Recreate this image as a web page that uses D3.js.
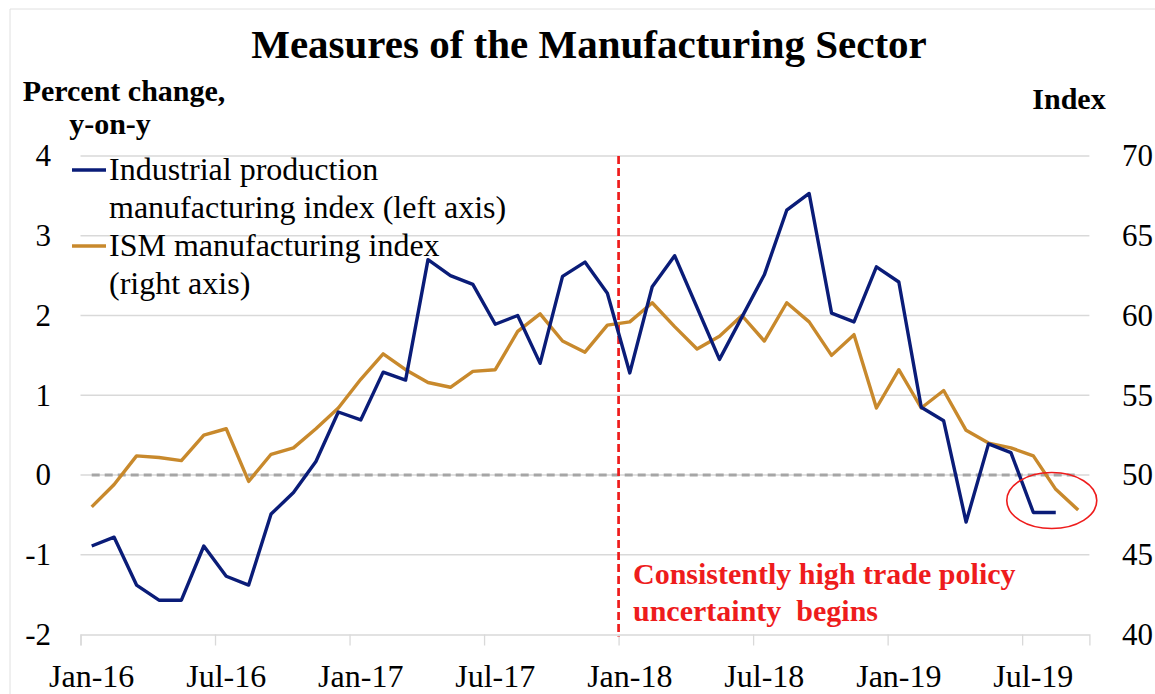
<!DOCTYPE html>
<html><head><meta charset="utf-8">
<script src="https://cdn.jsdelivr.net/npm/d3@7/dist/d3.min.js"></script>
<style>
html,body{margin:0;padding:0;background:#fff;}
text{font-family:"Liberation Serif","Times New Roman",serif;}
</style></head>
<body>
<svg id="chart" width="1155" height="694"></svg>
<script>
const months = ["Jan-16","Feb-16","Mar-16","Apr-16","May-16","Jun-16","Jul-16","Aug-16","Sep-16","Oct-16","Nov-16","Dec-16",
"Jan-17","Feb-17","Mar-17","Apr-17","May-17","Jun-17","Jul-17","Aug-17","Sep-17","Oct-17","Nov-17","Dec-17",
"Jan-18","Feb-18","Mar-18","Apr-18","May-18","Jun-18","Jul-18","Aug-18","Sep-18","Oct-18","Nov-18","Dec-18",
"Jan-19","Feb-19","Mar-19","Apr-19","May-19","Jun-19","Jul-19","Aug-19","Sep-19"];
const industrialProduction = [-0.89,-0.78,-1.38,-1.57,-1.57,-0.89,-1.27,-1.38,-0.49,-0.22,0.17,0.79,
0.69,1.29,1.19,2.70,2.50,2.39,1.89,2.00,1.40,2.49,2.67,2.28,
1.28,2.36,2.75,2.10,1.45,1.98,2.51,3.32,3.53,2.03,1.92,2.61,
2.42,0.85,0.68,-0.59,0.39,0.28,-0.47,-0.47];
const ismIndex = [48.0,49.4,51.2,51.1,50.9,52.5,52.9,49.6,51.3,51.7,52.9,54.2,
56.0,57.6,56.6,55.8,55.5,56.5,56.6,59.0,60.1,58.4,57.7,59.4,
59.6,60.8,59.3,57.9,58.7,60.0,58.4,60.8,59.6,57.5,58.8,54.2,
56.6,54.2,55.3,52.8,52.0,51.7,51.2,49.1,47.8];
const xTickLabels = ["Jan-16","Jul-16","Jan-17","Jul-17","Jan-18","Jul-18","Jan-19","Jul-19"];
const leftTicks = [-2,-1,0,1,2,3,4];
const rightTicks = [40,45,50,55,60,65,70];
const policyStart = "Jan-18";

const svg = d3.select("#chart");
const font = '"Liberation Serif","Times New Roman",serif';
const blue = "#0a1c78", gold = "#c8892c", red = "#ee1c1c", grid = "#d9d9d9";

const x = d3.scaleLinear().domain([0, months.length]).range([80.5, 1089.4]);
const yL = d3.scaleLinear().domain([-2, 4]).range([634.5, 156]);
const yR = d3.scaleLinear().domain([40, 70]).range([634.5, 156]);
const cx = i => x(i + 0.5);

// frame
svg.append("line").attr("x1",10).attr("x2",1155).attr("y1",9).attr("y2",9).attr("stroke","#e0e0e0");
svg.append("line").attr("x1",10).attr("x2",10).attr("y1",9).attr("y2",694).attr("stroke","#e0e0e0");

// gridlines
svg.append("g").selectAll("line").data(leftTicks.filter(d => d > -2)).join("line")
  .attr("x1", x(0)).attr("x2", x(months.length))
  .attr("y1", d => yL(d)).attr("y2", d => yL(d))
  .attr("stroke", grid).attr("stroke-width", 1.3);

// bottom axis
const xTickIdx = xTickLabels.map(l => months.indexOf(l));
const xAxis = d3.axisBottom(x).tickValues(xTickIdx).tickSize(11).tickFormat("");
const gx = svg.append("g").attr("transform", `translate(0,${yL(-2)})`).call(xAxis);
gx.select(".domain").attr("stroke", grid).attr("stroke-width", 1.3);
gx.selectAll(".tick line").attr("stroke", grid).attr("stroke-width", 1.3);
svg.append("g").selectAll("text").data(xTickLabels).join("text")
  .attr("x", d => cx(months.indexOf(d))).attr("y", 687)
  .attr("text-anchor","middle").attr("font-size",32).attr("fill","#000").text(d => d);

// left tick labels
const yAxisL = d3.axisLeft(yL).tickValues(leftTicks).tickSize(0).tickPadding(0).tickFormat(d3.format("d"));
const gl = svg.append("g").attr("transform","translate(51,0)").call(yAxisL);
gl.select(".domain").remove();
gl.selectAll("text").attr("font-family", font).attr("font-size", 31).attr("fill","#000")
  .text(d => d < 0 ? "-" + Math.abs(d) : d);

// right tick labels
const yAxisR = d3.axisRight(yR).tickValues(rightTicks).tickSize(0).tickPadding(0).tickFormat(d3.format("d"));
const gr = svg.append("g").attr("transform","translate(1122,0)").call(yAxisR);
gr.select(".domain").remove();
gr.selectAll("text").attr("font-family", font).attr("font-size", 31).attr("fill","#000");

// zero dashed line
svg.append("line").attr("x1", cx(0)).attr("x2", cx(months.length - 1))
  .attr("y1", yL(0)).attr("y2", yL(0))
  .attr("stroke", "#a6a6a6").attr("stroke-width", 3).attr("stroke-dasharray", "8,5");

// red vertical line
const px = x(months.indexOf(policyStart));
svg.append("line").attr("x1", px).attr("x2", px).attr("y1", yL(4)).attr("y2", yL(-2) + 2)
  .attr("stroke", red).attr("stroke-width", 2.7).attr("stroke-dasharray", "8,4");

// series
const lineL = d3.line().x((d,i) => cx(i)).y(d => yL(d));
const lineR = d3.line().x((d,i) => cx(i)).y(d => yR(d));
svg.append("path").datum(ismIndex).attr("d", lineR).attr("fill","none")
  .attr("stroke", gold).attr("stroke-width", 3.4).attr("stroke-linejoin","round");
svg.append("path").datum(industrialProduction).attr("d", lineL).attr("fill","none")
  .attr("stroke", blue).attr("stroke-width", 3.4).attr("stroke-linejoin","round");

// ellipse highlight
svg.append("ellipse")
  .attr("cx", (cx(42) + cx(44)) / 2 - 4).attr("cy", yR(48.4))
  .attr("rx", 45).attr("ry", 28)
  .attr("fill","none").attr("stroke", red).attr("stroke-width", 1.6);

// legend
const legend = [
  {color: blue, lines: ["Industrial production", "manufacturing index (left axis)"], y: 170},
  {color: gold, lines: ["ISM manufacturing index", "(right axis)"], y: 246}
];
legend.forEach(l => {
  svg.append("line").attr("x1",72).attr("x2",106).attr("y1",l.y).attr("y2",l.y)
    .attr("stroke", l.color).attr("stroke-width", 3.4);
  l.lines.forEach((t, k) => {
    svg.append("text").attr("x",109).attr("y", l.y + 10 + k*38)
      .attr("font-size",32).attr("fill","#000").text(t);
  });
});

// annotation
const ann = ["Consistently high trade policy", "uncertainty  begins"];
ann.forEach((t, k) => {
  svg.append("text").attr("x", 633).attr("y", 584 + k*37)
    .attr("font-size",30).attr("font-weight","bold").attr("fill", red)
    .style("white-space","pre").text(t);
});

// title & axis titles
svg.append("text").attr("x", 589).attr("y", 58).attr("text-anchor","middle")
  .attr("font-size", 41).attr("font-weight","bold").attr("fill","#000")
  .text("Measures of the Manufacturing Sector");
svg.append("text").attr("x", 124).attr("y", 101).attr("text-anchor","middle")
  .attr("font-size", 30).attr("font-weight","bold").text("Percent change,");
svg.append("text").attr("x", 110).attr("y", 134).attr("text-anchor","middle")
  .attr("font-size", 30).attr("font-weight","bold").text("y-on-y");
svg.append("text").attr("x", 1069).attr("y", 109).attr("text-anchor","middle")
  .attr("font-size", 30).attr("font-weight","bold").text("Index");
</script>
</body></html>
